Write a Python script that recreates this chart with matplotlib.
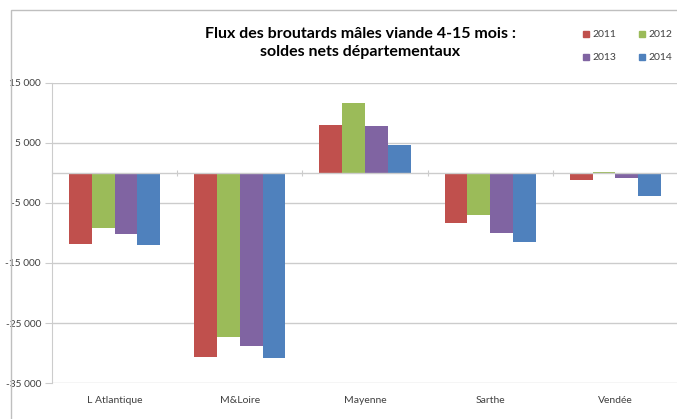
"""Flux des broutards mâles viande 4-15 mois : soldes nets départementaux."""

import matplotlib
matplotlib.use("Agg")
import matplotlib.pyplot as plt
import numpy as np
from matplotlib.lines import Line2D
from matplotlib.patches import Rectangle
from matplotlib.ticker import FuncFormatter

DEPARTEMENTS = ["L Atlantique", "M&Loire", "Mayenne", "Sarthe", "Vendée"]
YEARS = ["2011", "2012", "2013", "2014"]
SOLDES_2011 = [-11900, -30700, 8000, -8400, -1100]
SOLDES_2012 = [-9200, -27400, 11600, -7000, 200]
SOLDES_2013 = [-10100, -28800, 7800, -9950, -850]
SOLDES_2014 = [-12050, -30800, 4650, -11500, -3900]
Y_TICKS = [15000, 5000, -5000, -15000, -25000, -35000]

COLORS = ["#C0504D", "#9BBB59", "#8064A2", "#4F81BD"]
GRID = "#CCCCCC"
TEXT = "#404040"

plt.rcParams["font.family"] = ["Lato", "DejaVu Sans"]

series = [SOLDES_2011, SOLDES_2012, SOLDES_2013, SOLDES_2014]

fig = plt.figure(figsize=(6.77, 4.19), dpi=100)
# outer chart frame (cropped on right and bottom in the original)
fig.patches.append(Rectangle((11 / 677, -0.2), 1.2, 0.2 + (419 - 10) / 419,
                             transform=fig.transFigure, fill=False,
                             edgecolor="#BFBFBF", lw=1.0))

ax = fig.add_axes([52 / 677, 36 / 419, 626 / 677, 300 / 419])
x = np.arange(len(DEPARTEMENTS))
width = 0.73 / len(series)
for i, (vals, year) in enumerate(zip(series, YEARS)):
    offset = (i - len(series) / 2 + 0.5) * width
    ax.bar(x + offset, vals, width, color=COLORS[i], label=year, zorder=3)

ax.set_xlim(-0.5, len(DEPARTEMENTS) - 0.5)
ax.set_ylim(-35000, 15000)
ax.set_yticks(Y_TICKS)
ax.yaxis.set_major_formatter(FuncFormatter(lambda v, _: f"{int(v):,}".replace(",", " ")))
ax.grid(axis="y", color=GRID, lw=1.0, zorder=0)
ax.tick_params(axis="y", length=5, color=GRID, labelsize=7.3, labelcolor=TEXT, pad=3)
ax.set_xticks(x)
ax.set_xticklabels(DEPARTEMENTS)
ax.tick_params(axis="x", length=0, labelsize=7.5, labelcolor=TEXT, pad=9)
for side in ["top", "right", "bottom"]:
    ax.spines[side].set_visible(False)
ax.spines["left"].set_color(GRID)

# zero line with category separators
ax.axhline(0, color=GRID, lw=1.0, zorder=4)
zero_pos = (0 - ax.get_ylim()[0]) / (ax.get_ylim()[1] - ax.get_ylim()[0])
sec = ax.secondary_xaxis(zero_pos)
sec.set_xticks(np.arange(len(DEPARTEMENTS) + 1) - 0.5)
sec.tick_params(length=4, direction="inout", color=GRID, labelbottom=False,
                labeltop=False)
sec.spines["bottom"].set_visible(False)
sec.spines["top"].set_visible(False)

fig.text(0.532, 0.897, "Flux des broutards mâles viande 4-15 mois :\nsoldes nets départementaux",
         ha="center", va="center", fontsize=11.5, fontweight="bold", color="#000000",
         linespacing=1.35)

handles = [Line2D([], [], marker="s", ls="", color=c, markersize=4.5) for c in COLORS]
order = [0, 2, 1, 3]
fig.legend([handles[k] for k in order], [YEARS[k] for k in order], ncol=2,
           loc="upper left", bbox_to_anchor=(0.855, 0.938), frameon=False,
           fontsize=7.5, labelcolor=TEXT, handlelength=0.6, handletextpad=0.3,
           columnspacing=2.2, labelspacing=1.3, borderaxespad=0)

fig.savefig("out.png", dpi=100)
